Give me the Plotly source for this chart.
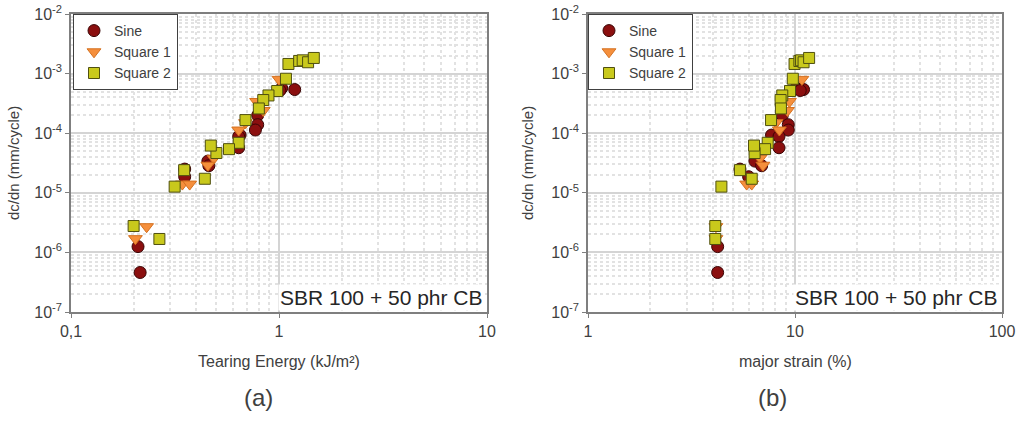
import plotly.graph_objects as go

TEXT = "#404040"
AXIS = "#7f7f7f"
GRID = "#d4d4d4"
MINOR = "#e2e2e2"

# dc/dn values (mm/cycle) with matching tearing energy (kJ/m²) and major strain (%)
sine_dcdn = [5.4e-4, 5.7e-4, 5.2e-4, 2.0e-4, 1.39e-4, 1.13e-4, 9.3e-5, 8.8e-5, 5.7e-5,
             3.4e-5, 2.85e-5, 2.5e-5, 1.86e-5, 1.25e-6, 4.6e-7]
sine_energy = [1.19, 1.03, 1.01, 0.79, 0.79, 0.77, 0.65, 0.64, 0.64,
               0.455, 0.46, 0.352, 0.352, 0.21, 0.215]
sine_strain = [11.0, 10.1, 10.6, 8.68, 9.28, 9.28, 7.7, 8.37, 8.37,
               6.4, 6.9, 5.42, 5.97, 4.23, 4.23]

sq1_dcdn = [8.0e-4, 3.4e-4, 2.4e-4, 1.5e-4, 1.13e-4, 3.8e-5, 2.9e-5, 1.4e-5, 1.4e-5, 2.7e-6, 1.7e-6]
sq1_energy = [1.0, 0.78, 0.84, 0.69, 0.64, 0.486, 0.455, 0.343, 0.372, 0.231, 0.204]
sq1_strain = [10.8, 9.4, 9.2, 8.1, 8.4, 6.78, 7.0, 5.84, 6.18, 4.15, 4.15]

sq2_dcdn = [1.45e-3, 1.63e-3, 1.67e-3, 1.55e-3, 1.83e-3, 8.2e-4, 5.1e-4, 4.3e-4, 3.6e-4, 2.6e-4,
            1.66e-4, 6.9e-5, 5.4e-5, 4.65e-5, 6.2e-5, 1.72e-5, 2.4e-5, 1.27e-5, 2.77e-6, 1.68e-6]
sq2_energy = [1.11, 1.25, 1.30, 1.38, 1.47, 1.08, 0.98, 0.89, 0.84, 0.80,
              0.69, 0.64, 0.575, 0.50, 0.47, 0.44, 0.35, 0.315, 0.20, 0.266]
sq2_strain = [9.95, 10.5, 10.7, 11.0, 11.7, 9.76, 9.46, 8.68, 8.52, 8.55,
              7.66, 7.38, 7.17, 6.38, 6.34, 6.18, 5.42, 4.41, 4.12, 4.12]

y_ticks = [1e-7, 1e-6, 1e-5, 1e-4, 1e-3, 1e-2]
y_ticktext = ["10<sup>-7</sup>", "10<sup>-6</sup>", "10<sup>-5</sup>",
              "10<sup>-4</sup>", "10<sup>-3</sup>", "10<sup>-2</sup>"]
xa_ticks = [0.1, 1, 10]
xa_ticktext = ["0,1", "1", "10"]
xb_ticks = [1, 10, 100]
xb_ticktext = ["1", "10", "100"]

SERIES = [
    ("Sine", sine_dcdn, sine_energy, sine_strain,
     dict(symbol="circle", size=12, color="#8b0f0f", line=dict(width=1, color="#3a0505"))),
    ("Square 1", sq1_dcdn, sq1_energy, sq1_strain,
     dict(symbol="triangle-down", size=12, color="#f58f3c", line=dict(width=1, color="#d4701f"))),
    ("Square 2", sq2_dcdn, sq2_energy, sq2_strain,
     dict(symbol="square", size=11, color="#c9c91c", line=dict(width=1, color="#4f4f10"))),
]

W, H = 1024, 421


def px(x):
    return x / W


def py(y):
    return 1 - y / H


fig = go.Figure()
for name, dcdn, energy, strain, marker in SERIES:
    fig.add_trace(go.Scatter(x=energy, y=dcdn, mode="markers", name=name, marker=marker,
                             xaxis="x", yaxis="y", legend="legend"))
    fig.add_trace(go.Scatter(x=strain, y=dcdn, mode="markers", name=name, marker=marker,
                             xaxis="x2", yaxis="y2", legend="legend2"))


def log_axis(rng, tickvals, ticktext, domain, anchor):
    return dict(
        type="log", range=rng, domain=domain, anchor=anchor, automargin=False,
        tickvals=tickvals, ticktext=ticktext, ticklabeloverflow="allow",
        showline=True, mirror=True, linecolor=AXIS, linewidth=1.5,
        ticks="outside", ticklen=4, tickcolor=AXIS,
        showgrid=True, gridcolor=GRID, gridwidth=1.5, zeroline=False,
        minor=dict(dtick="D1", showgrid=True, gridcolor=MINOR, griddash="dot", ticks=""),
        tickfont=dict(size=16, color=TEXT),
    )


Y_DOM = [py(312), py(14)]
LEG = dict(y=py(14), xanchor="left", yanchor="top", bgcolor="white",
           bordercolor="#404040", borderwidth=1, font=dict(size=14, color=TEXT),
           tracegroupgap=0)
fig.update_layout(
    width=W, height=H,
    margin=dict(l=0, r=0, t=0, b=0, autoexpand=False),
    paper_bgcolor="white", plot_bgcolor="white",
    font=dict(family="Arial, Liberation Sans, sans-serif", color=TEXT),
    xaxis=log_axis([-1, 1], xa_ticks, xa_ticktext, [px(71), px(487)], "y"),
    yaxis=log_axis([-7, -2], y_ticks, y_ticktext, Y_DOM, "x"),
    xaxis2=log_axis([0, 2], xb_ticks, xb_ticktext, [px(588), px(1002)], "y2"),
    yaxis2=log_axis([-7, -2], y_ticks, y_ticktext, Y_DOM, "x2"),
    legend=dict(x=px(73), **LEG),
    legend2=dict(x=px(588), **LEG),
)

annos = [
    dict(text="dc/dn (mm/cycle)", x=14, y=163, textangle=-90, size=15),
    dict(text="dc/dn (mm/cycle)", x=528, y=163, textangle=-90, size=15),
    dict(text="Tearing Energy (kJ/m²)", x=279, y=361, size=16),
    dict(text="major strain (%)", x=795, y=361, size=16),
    dict(text="(a)", x=258, y=397, size=24),
    dict(text="(b)", x=772, y=397, size=24),
]
for a in annos:
    fig.add_annotation(text=a["text"], x=px(a["x"]), y=py(a["y"]),
                       xref="paper", yref="paper", xanchor="center", yanchor="middle",
                       showarrow=False, textangle=a.get("textangle", 0),
                       font=dict(size=a["size"], color=TEXT))

for xr in ["x domain", "x2 domain"]:
    fig.add_annotation(text="SBR 100 + 50 phr CB", x=0.995, y=0.005, xref=xr,
                       yref="y domain" if xr == "x domain" else "y2 domain",
                       xanchor="right", yanchor="bottom", showarrow=False,
                       bgcolor="white", font=dict(size=21, color="#262626"))

# drop the default page margin so the figure sits at the window origin
fig.write_html("out.html", config={"displayModeBar": False},
               post_script="document.body.style.margin='0';")
